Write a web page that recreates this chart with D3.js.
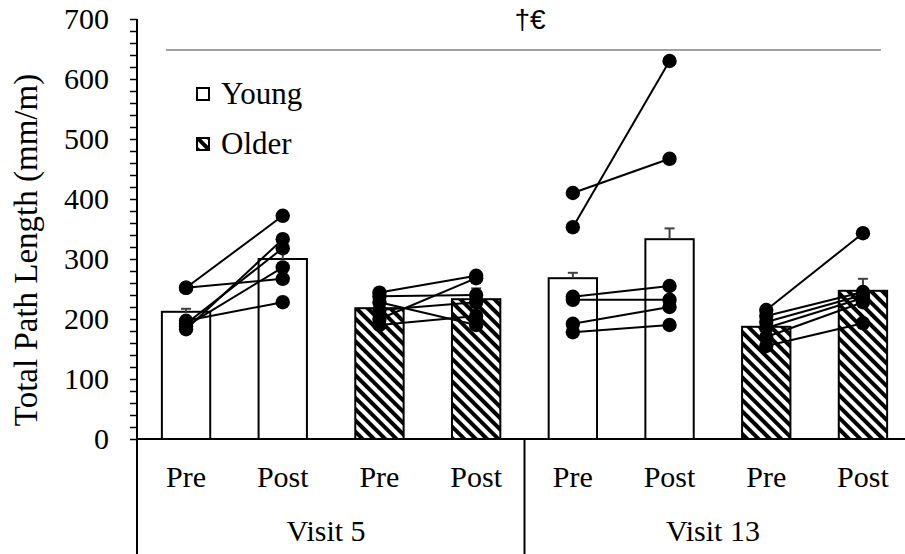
<!DOCTYPE html>
<html>
<head>
<meta charset="utf-8">
<script src="https://cdn.jsdelivr.net/npm/d3@7"></script>
<style>
  html, body { margin: 0; padding: 0; background: #fff; }
  svg { display: block; }
</style>
</head>
<body>
<svg id="chart" width="905" height="554"></svg>
<script>
// Categories along the x axis (two levels: session within visit)
const sessions = ["Pre", "Post", "Pre", "Post", "Pre", "Post", "Pre", "Post"];
const visits = ["Visit 5", "Visit 13"];
const groups = ["Young", "Older", "Young", "Older"]; // age group of each Pre/Post pair
const legendGroups = ["Young", "Older"];

// Group means and upper error (SE) for each bar
const barMeans = [212, 300, 218, 233, 268, 333, 187, 247];
const barErrors = [5, 18, 8, 18, 9, 18, 8, 20];

// Individual subjects, Pre and Post paired by index
const v5YoungPre = [252, 252, 197, 192, 188, 183];
const v5YoungPost = [372, 267, 228, 318, 286, 333];
const v5OlderPre = [244, 238, 228, 215, 200, 190];
const v5OlderPost = [272, 240, 190, 228, 268, 205];
const v13YoungPre = [410, 353, 237, 232, 192, 178];
const v13YoungPost = [467, 630, 255, 232, 220, 190];
const v13OlderPre = [215, 205, 195, 185, 170, 155];
const v13OlderPost = [343, 245, 240, 235, 228, 193];

const subjectPairs = [
  [v5YoungPre, v5YoungPost],
  [v5OlderPre, v5OlderPost],
  [v13YoungPre, v13YoungPost],
  [v13OlderPre, v13OlderPost]
];

// Significance annotation over the whole chart
const sigLabel = "†€";
const sigLevel = 650;

const yTicks = d3.range(0, 701, 20);

const SERIF = "'Liberation Serif', 'Times New Roman', serif";
const SANS = "'Liberation Sans', Arial, sans-serif";

const svg = d3.select("#chart");
const W = 905, H = 554;

const y = d3.scaleLinear().domain([0, 700]).range([439, 19]);
const x = d3.scaleBand()
  .domain(d3.range(sessions.length))
  .range([137.7, 911.3])
  .paddingInner(0.5)
  .paddingOuter(0.25);
const cx = i => x(i) + x.bandwidth() / 2;

// Diagonal hatch for the older group
const defs = svg.append("defs");
defs.append("pattern")
  .attr("id", "hatch")
  .attr("patternUnits", "userSpaceOnUse")
  .attr("width", 8)
  .attr("height", 8)
  .attr("patternTransform", "rotate(-45)")
  .call(p => {
    p.append("rect").attr("width", 8).attr("height", 8).attr("fill", "#fff");
    p.append("rect").attr("width", 4).attr("height", 8).attr("fill", "#000");
  });

const fillFor = i => groups[Math.floor(i / 2)] === "Older" ? "url(#hatch)" : "#fff";

// Bars
svg.append("g").selectAll("rect")
  .data(barMeans)
  .join("rect")
  .attr("x", (d, i) => x(i))
  .attr("y", d => y(d))
  .attr("width", x.bandwidth())
  .attr("height", d => y(0) - y(d))
  .attr("fill", (d, i) => fillFor(i))
  .attr("stroke", "#000")
  .attr("stroke-width", 2);

// Upper error bars
const eg = svg.append("g").attr("stroke", "#404040").attr("stroke-width", 2);
barMeans.forEach((m, i) => {
  eg.append("line")
    .attr("x1", cx(i)).attr("x2", cx(i))
    .attr("y1", y(m)).attr("y2", y(m + barErrors[i]));
  eg.append("line")
    .attr("x1", cx(i) - 5).attr("x2", cx(i) + 5)
    .attr("y1", y(m + barErrors[i])).attr("y2", y(m + barErrors[i]));
});

// Individual subject lines and points
const sg = svg.append("g");
subjectPairs.forEach(([pre, post], k) => {
  const iPre = 2 * k, iPost = 2 * k + 1;
  sg.append("g").selectAll("line")
    .data(pre)
    .join("line")
    .attr("x1", cx(iPre)).attr("y1", d => y(d))
    .attr("x2", cx(iPost)).attr("y2", (d, j) => y(post[j]))
    .attr("stroke", "#000")
    .attr("stroke-width", 2);
});
subjectPairs.forEach(([pre, post], k) => {
  [[pre, 2 * k], [post, 2 * k + 1]].forEach(([vals, i]) => {
    sg.append("g").selectAll("circle")
      .data(vals)
      .join("circle")
      .attr("cx", cx(i))
      .attr("cy", d => y(d))
      .attr("r", 7.2)
      .attr("fill", "#000");
  });
});

// Y axis
const yAxis = d3.axisLeft(y)
  .tickValues(yTicks)
  .tickSize(7)
  .tickSizeOuter(0)
  .tickPadding(21)
  .tickFormat(d => d % 100 === 0 ? d : "");
const ya = svg.append("g").attr("transform", "translate(137,0)").call(yAxis);
ya.attr("font-family", null).attr("font-size", null);
ya.select(".domain").remove();
ya.selectAll(".tick line").attr("stroke", "#000").attr("stroke-width", 1.5);
ya.selectAll(".tick text")
  .style("font-family", SERIF)
  .style("font-size", "30px")
  .attr("fill", "#000");

// Axis lines: vertical axis runs down through the category area
const axisG = svg.append("g").attr("stroke", "#000").attr("stroke-width", 2);
axisG.append("line").attr("x1", 137).attr("x2", 137).attr("y1", y(700)).attr("y2", H);
axisG.append("line").attr("x1", 137).attr("x2", W).attr("y1", y(0)).attr("y2", y(0));
// separators between visits
const visitEdges = [0, 4, 8].map(i => i === 8 ? x.range()[1] : x(i) - x.step() * x.paddingInner() / 2);
visitEdges.slice(1).forEach(xe => {
  axisG.append("line").attr("x1", xe).attr("x2", xe).attr("y1", y(0)).attr("y2", H);
});

// Category labels
svg.append("g").selectAll("text")
  .data(sessions)
  .join("text")
  .attr("x", (d, i) => cx(i))
  .attr("y", 487)
  .attr("text-anchor", "middle")
  .style("font-family", SERIF)
  .style("font-size", "30px")
  .text(d => d);

svg.append("g").selectAll("text")
  .data(visits)
  .join("text")
  .attr("x", (d, k) => (visitEdges[k] + visitEdges[k + 1]) / 2 - 5)
  .attr("y", 541)
  .attr("text-anchor", "middle")
  .style("font-family", SERIF)
  .style("font-size", "30px")
  .text(d => d);

// Y axis title
svg.append("text")
  .attr("transform", "translate(37,250) rotate(-90)")
  .attr("text-anchor", "middle")
  .style("font-family", SERIF)
  .style("font-size", "33px")
  .text("Total Path Length (mm/m)");

// Legend
const lg = svg.append("g");
legendGroups.forEach((g, k) => {
  const ly = 88 + k * 50;
  lg.append("rect")
    .attr("x", 197).attr("y", ly)
    .attr("width", 12).attr("height", 12)
    .attr("fill", g === "Older" ? "url(#hatch)" : "#fff")
    .attr("stroke", "#000")
    .attr("stroke-width", 2);
  lg.append("text")
    .attr("x", 221).attr("y", ly + 16)
    .style("font-family", SERIF)
    .style("font-size", "31px")
    .text(g);
});

// Significance line and marker
svg.append("line")
  .attr("x1", 166).attr("x2", 881)
  .attr("y1", y(sigLevel) + 1).attr("y2", y(sigLevel) + 1)
  .attr("stroke", "#808080")
  .attr("stroke-width", 1.5);
svg.append("text")
  .attr("x", 530).attr("y", 29)
  .attr("text-anchor", "middle")
  .style("font-family", SANS)
  .style("font-size", "28px")
  .text(sigLabel);
</script>
</body>
</html>
